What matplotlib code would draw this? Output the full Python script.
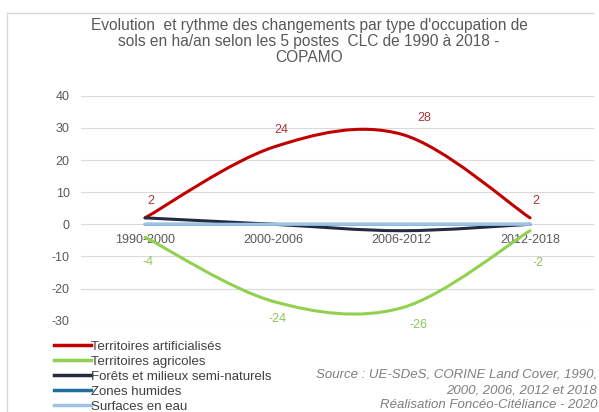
import numpy as np
import matplotlib.pyplot as plt
from matplotlib.path import Path
from matplotlib.patches import PathPatch
from matplotlib.lines import Line2D

plt.rcParams['font.family'] = ['Liberation Sans', 'DejaVu Sans']
plt.rcParams['axes.unicode_minus'] = False

periods = ['1990-2000', '2000-2006', '2006-2012', '2012-2018']
artificial = [2, 24, 28, 2]
agricultural = [-4, -24, -26, -2]
forests = [2, 0, -2, 0]
wetlands = [0, 0, 0, 0]
water = [0, 0, 0, 0]

series_names = ['Territoires artificialisés', 'Territoires agricoles',
                'Forêts et milieux semi-naturels', 'Zones humides', 'Surfaces en eau']
series_values = [artificial, agricultural, forests, wetlands, water]
colors = ['#C00000', '#92D050', '#252A3F', '#1F6E9E', '#9DC3E6']
draw_order = [3, 4, 2, 1, 0]

title = ("Evolution  et rythme des changements par type d'occupation de\n"
         "sols en ha/an selon les 5 postes  CLC de 1990 à 2018 -\nCOPAMO")
source = ['Source : UE-SDeS, CORINE Land Cover, 1990,',
          '2000, 2006, 2012 et 2018',
          'Réalisation Foncéo-Citéliance - 2020']


def smooth_path(xs, ys):
    # Excel-like smoothed line: cubic bezier with Catmull-Rom tangents
    pts = np.column_stack([xs, ys]).astype(float)
    n = len(pts)
    verts = [pts[0]]
    codes = [Path.MOVETO]
    for i in range(n - 1):
        p_prev = pts[i - 1] if i > 0 else pts[i]
        p_next = pts[i + 2] if i + 2 < n else pts[i + 1]
        c1 = pts[i] + (pts[i + 1] - p_prev) / 6
        c2 = pts[i + 1] - (p_next - pts[i]) / 6
        verts += [c1, c2, pts[i + 1]]
        codes += [Path.CURVE4] * 3
    return Path(verts, codes)


fig = plt.figure(figsize=(5.99, 4.12), dpi=100)
ax = fig.add_axes([0.135, 0.2216, 0.857, 0.546])

x = np.arange(len(periods))
for k in draw_order:
    patch = PathPatch(smooth_path(x, series_values[k]), fill=False,
                      edgecolor=colors[k], linewidth=2.2, capstyle='round', zorder=3 + k * 0.1)
    ax.add_patch(patch)

ax.set_xlim(-0.5, len(periods) - 0.5)
ax.set_ylim(-30, 40)
ax.set_yticks(range(-30, 41, 10))
ax.set_xticks(x)
ax.set_xticklabels(periods)
ax.grid(axis='y', color='#D9D9D9', linewidth=0.8)
ax.set_axisbelow(True)
for s in ['top', 'right', 'left']:
    ax.spines[s].set_visible(False)
ax.spines['bottom'].set_position(('data', 0))
ax.spines['bottom'].set_visible(False)
ax.tick_params(axis='both', length=0, labelsize=9, labelcolor='#595959')
ax.tick_params(axis='x', pad=7)
ax.tick_params(axis='y', pad=8)

red_dx = [4, 6, 16, 4]
for i, v in enumerate(artificial):
    ax.annotate(str(v), (x[i], v), xytext=(red_dx[i], 12), textcoords='offset points',
                ha='center', va='center', fontsize=9, color='#A8353A')
green_dx = [2, 3, 12, 6]
green_dy = [-18, -13, -12, -23]
for i, v in enumerate(agricultural):
    ax.annotate(str(v), (x[i], v), xytext=(green_dx[i], green_dy[i]), textcoords='offset points',
                ha='center', va='center', fontsize=9, color='#8FC45A')

fig.text(0.516, 0.957, title, ha='center', va='top', fontsize=11.2, color='#595959',
         linespacing=1.08)

handles = [Line2D([], [], color=colors[k], linewidth=2.5) for k in range(len(series_names))]
fig.legend(handles, series_names, loc='upper left', bbox_to_anchor=(0.09, 0.174),
           frameon=False, fontsize=9.5, handlelength=2.8, handletextpad=0.0,
           labelspacing=0.22, borderaxespad=0, borderpad=0, labelcolor='#404040')

for j, line in enumerate(source):
    fig.text(0.997, 0.09 - j * 0.037, line, ha='right', va='center', fontsize=9.5,
             style='italic', color='#7F7F7F')

# chart area frame
fig.add_artist(Line2D([0.012, 0.99], [0.968, 0.968], color='#D9D9D9', linewidth=1))
fig.add_artist(Line2D([0.012, 0.012], [0.0, 0.968], color='#D9D9D9', linewidth=1))

fig.savefig('out.png', dpi=100)
